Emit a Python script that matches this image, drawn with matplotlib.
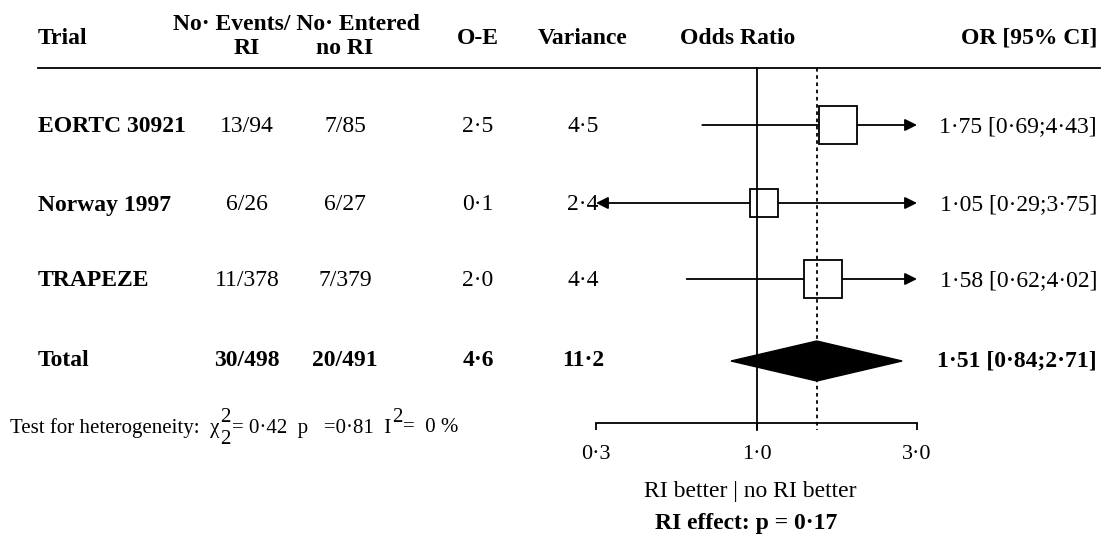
## Forest plot: radiotherapy (RI) vs no RI, odds ratios by trial

import numpy as np
import matplotlib
matplotlib.use("Agg")
import matplotlib.pyplot as plt
from matplotlib.patches import Polygon

plt.rcParams['font.family'] = ['Liberation Serif', 'DejaVu Serif']

# Trial data
trials = ['EORTC 30921', 'Norway 1997', 'TRAPEZE']
events_ri = ['13/94', '6/26', '11/378']
events_no_ri = ['7/85', '6/27', '7/379']
o_minus_e = [2.5, 0.1, 2.0]
variance = [4.5, 2.4, 4.4]
odds_ratio = [1.75, 1.05, 1.58]
ci_low = [0.69, 0.29, 0.62]
ci_high = [4.43, 3.75, 4.02]

# Pooled result
total_label = 'Total'
total_events_ri = '30/498'
total_events_no_ri = '20/491'
total_o_minus_e = 4.6
total_variance = 11.2
total_or = 1.51
total_low = 0.84
total_high = 2.71

het_chi2 = 0.42
het_df = 2
het_p = 0.81
het_i2 = 0
effect_p = 0.17

axis_ticks = [1/3, 1.0, 3.0]
axis_ticklabels = ['0·3', '1·0', '3·0']


def dot(v, nd=1):
    # decimals written with a raised dot
    return f'{v:.{nd}f}'.replace('.', '·')


########################################################################################################################

W, H = 1115, 542
fig = plt.figure(figsize=(W / 100, H / 100), dpi=100)
renderer = fig.canvas.get_renderer()

# Background axes in pixel units for the table text
tab = fig.add_axes([0, 0, 1, 1])
tab.set_xlim(0, W)
tab.set_ylim(H, 0)
tab.axis('off')

row_y = [127, 205, 281]      # row centres (pixels from top)
total_y = 361
rule_y = 68
axis_y = 423
x_lo_px, x_hi_px = 596, 917  # forest panel left/right

fs = 17
col_trial = 38
col_ri = 247
col_no_ri = 345
col_oe = 478
col_var = 583
col_or = 1097

# Header
tab.text(col_trial, 38, 'Trial', fontsize=fs, fontweight='bold', va='center', ha='left')
tab.text(296, 25, 'No· Events/ No· Entered', fontsize=fs, fontweight='bold', va='center', ha='center')
tab.text(col_ri, 49, 'RI', fontsize=fs, fontweight='bold', va='center', ha='center')
tab.text(col_no_ri, 49, 'no RI', fontsize=fs, fontweight='bold', va='center', ha='center')
tab.text(col_oe, 38, 'O-E', fontsize=fs, fontweight='bold', va='center', ha='center')
tab.text(col_var, 38, 'Variance', fontsize=fs, fontweight='bold', va='center', ha='center')
tab.text(738, 38, 'Odds Ratio', fontsize=fs, fontweight='bold', va='center', ha='center')
tab.text(col_or, 38, 'OR [95% CI]', fontsize=fs, fontweight='bold', va='center', ha='right')
tab.plot([col_trial, 1100], [rule_y, rule_y], color='black', lw=1.3)

# Trial rows
for i in range(len(trials)):
    y = row_y[i]
    tab.text(col_trial, y, trials[i], fontsize=fs, fontweight='bold', va='center', ha='left')
    tab.text(col_ri, y, events_ri[i], fontsize=fs, va='center', ha='center')
    tab.text(col_no_ri, y, events_no_ri[i], fontsize=fs, va='center', ha='center')
    tab.text(col_oe, y, dot(o_minus_e[i]), fontsize=fs, va='center', ha='center')
    tab.text(col_var, y, dot(variance[i]), fontsize=fs, va='center', ha='center')
    tab.text(col_or, y, f'{dot(odds_ratio[i], 2)} [{dot(ci_low[i], 2)};{dot(ci_high[i], 2)}]',
             fontsize=fs, va='center', ha='right')

# Total row
tab.text(col_trial, total_y, total_label, fontsize=fs, fontweight='bold', va='center', ha='left')
tab.text(col_ri, total_y, total_events_ri, fontsize=fs, fontweight='bold', va='center', ha='center')
tab.text(col_no_ri, total_y, total_events_no_ri, fontsize=fs, fontweight='bold', va='center', ha='center')
tab.text(col_oe, total_y, dot(total_o_minus_e), fontsize=fs, fontweight='bold', va='center', ha='center')
tab.text(col_var, total_y, dot(total_variance), fontsize=fs, fontweight='bold', va='center', ha='center')
tab.text(col_or, total_y, f'{dot(total_or, 2)} [{dot(total_low, 2)};{dot(total_high, 2)}]',
         fontsize=fs, fontweight='bold', va='center', ha='right')


# Heterogeneity line, written piece by piece so the 2s can stack like in print
def put(x, y, s, size=15):
    t = tab.text(x, y, s, fontsize=size, va='center', ha='left')
    bb = t.get_window_extent(renderer)
    return x + bb.width


het_y = 428
x = put(10, het_y, 'Test for heterogeneity:  χ')
w2 = put(x + 1, het_y - 11, '2') - x
put(x + 1, het_y + 12, f'{het_df}')
x = put(x + w2 + 1, het_y, f'= {dot(het_chi2, 2)}  p   ={dot(het_p, 2)}  I')
w2 = put(x + 1, het_y - 11, '2') - x
put(x + w2 + 1, het_y, f'=  {het_i2} %')

tab.text(750, 492, 'RI better | no RI better', fontsize=fs, va='center', ha='center')
tab.text(746, 524, f'RI effect: p = {dot(effect_p, 2)}', fontsize=fs, fontweight='bold', va='center', ha='center')

########################################################################################################################
# Forest panel (log odds ratio scale)

fx = fig.add_axes([x_lo_px / W, (H - axis_y) / H, (x_hi_px - x_lo_px) / W, (axis_y - rule_y) / H])
fx.set_xscale('log')
xmin, xmax = axis_ticks[0], axis_ticks[-1]
fx.set_xlim(xmin, xmax)
fx.set_ylim(axis_y, rule_y)
fx.patch.set_alpha(0)
for side in ['top', 'right', 'left']:
    fx.spines[side].set_visible(False)
fx.spines['bottom'].set_linewidth(1.3)
fx.set_yticks([])
fx.set_xticks(axis_ticks)
fx.set_xticklabels(axis_ticklabels, fontsize=16)
fx.xaxis.set_minor_locator(matplotlib.ticker.NullLocator())
fx.tick_params(axis='x', direction='out', length=5, width=1.3, pad=11)

# confidence intervals, arrows where they run past the axis
for i in range(len(trials)):
    y = row_y[i] - 2
    lo = max(ci_low[i], xmin)
    hi = min(ci_high[i], xmax)
    style = '-'
    if ci_low[i] < xmin and ci_high[i] > xmax:
        style = '<|-|>'
    elif ci_high[i] > xmax:
        style = '-|>'
    elif ci_low[i] < xmin:
        style = '<|-'
    fx.annotate('', xy=(hi, y), xytext=(lo, y),
                arrowprops=dict(arrowstyle=style, color='black', lw=1.3,
                                shrinkA=0, shrinkB=0, mutation_scale=18),
                annotation_clip=False, zorder=1)

# boxes sized by variance (area proportional to weight)
box_scale = 13.2
for i in range(len(trials)):
    fx.plot(odds_ratio[i], row_y[i] - 2, marker='s', markersize=box_scale * np.sqrt(variance[i]),
            mfc='white', mec='black', mew=1.3, zorder=2, clip_on=False)

# pooled diamond
diamond = Polygon([(total_low, total_y), (total_or, total_y - 20),
                   (total_high, total_y), (total_or, total_y + 20)],
                  closed=True, facecolor='black', edgecolor='black', zorder=2)
fx.add_patch(diamond)

# reference lines: no effect and pooled estimate
fx.plot([1.0, 1.0], [rule_y, axis_y + 7], color='black', lw=1.3, zorder=3, clip_on=False)
fx.plot([total_or, total_or], [rule_y, axis_y + 7], color='black', lw=1.3,
        ls=(0, (2, 2)), zorder=3, clip_on=False)

fig.savefig('out.png', dpi=100)
